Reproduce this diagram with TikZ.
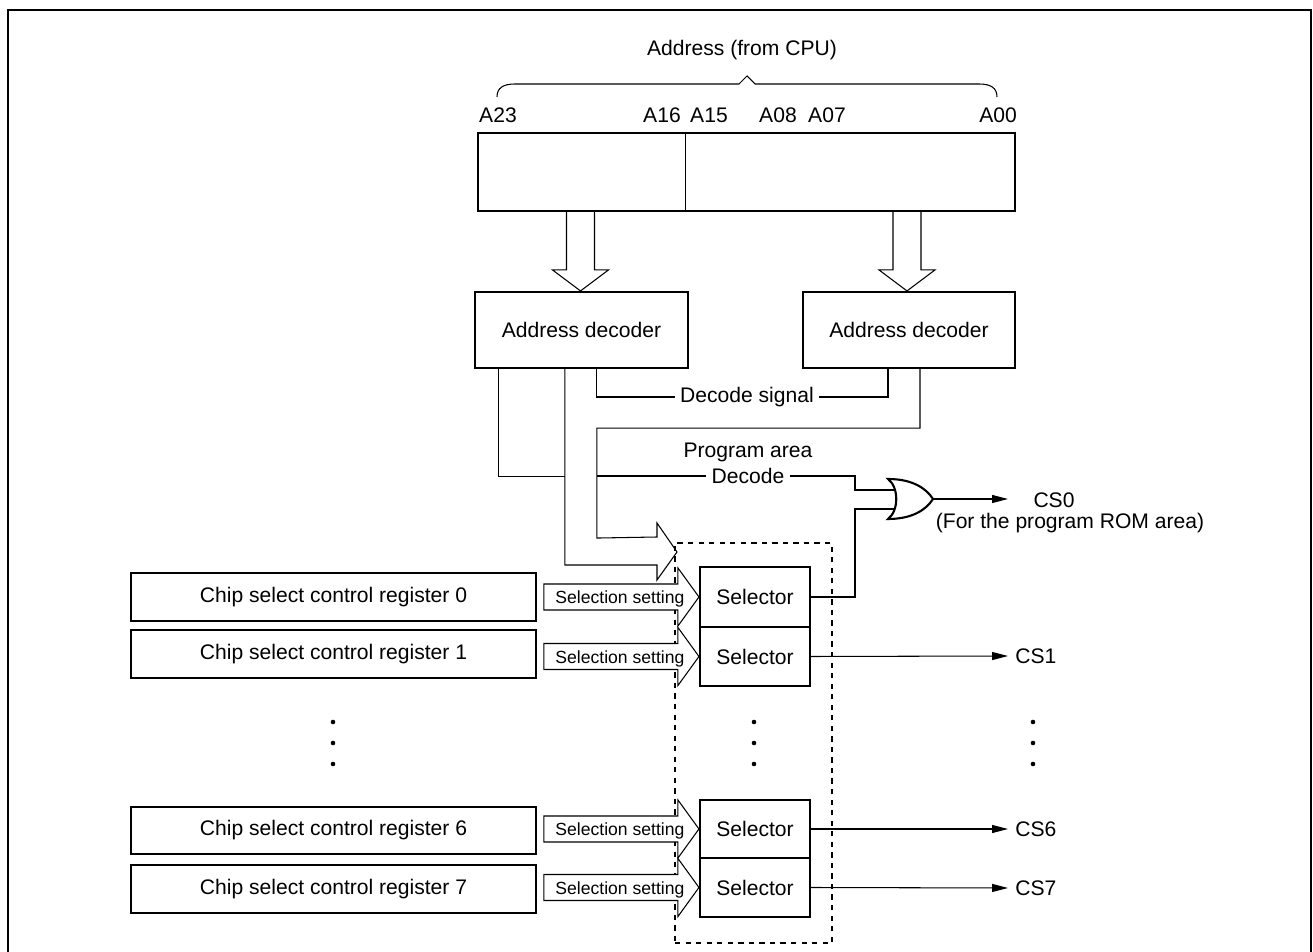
\documentclass[tikz,border=0pt]{standalone}
\usepackage{fontspec}
\setmainfont{Liberation Sans}
\usetikzlibrary{calc,fit,arrows.meta}
\newcommand\selarrow[1]{%
  \draw[hollow] ($(#1.west)+(-155,-13)$) -- ($(#1.west)+(-21,-13)$) -- ($(#1.west)+(-21,-29)$) -- (#1.west)
    -- ($(#1.west)+(-21,29)$) -- ($(#1.west)+(-21,13)$) -- ($(#1.west)+(-155,13)$) -- cycle;
  \node[slbl] (#1ss) at ($(#1.west)+(-79,2)$) {Selection setting};}
\begin{document}
\begin{tikzpicture}[x=0.02cm,y=-0.02cm,
  every node/.style={font=\fontsize{12}{14}\selectfont},
  box/.style={draw,line width=1.2pt,inner sep=0pt},
  wire/.style={line width=0.6pt},
  hollow/.style={draw,fill=white,line width=0.6pt,line join=miter},
  lbl/.style={inner sep=3pt},
  slbl/.style={font=\fontsize{10}{12}\selectfont,inner sep=0pt},
  outarrow/.style={line width=0.6pt,-{Triangle[length=9pt,width=4.5pt]}},
  dot/.style={circle,fill,inner sep=0pt,minimum size=2.6pt}]
\useasboundingbox (0,0) rectangle (1313,952);
% frame
\draw[line width=1.2pt] (8,952) -- (8,10) -- (1311,10) -- (1311,952);

% address register
\node[lbl] (title) at (742,50) {Address (from CPU)};
\draw[wire] (497,97) .. controls (497,88) and (503,84) .. (515,84) -- (739,84) -- (747,76) -- (755,84)
  -- (979,84) .. controls (991,84) and (997,88) .. (997,97);
\node[lbl] (a23) at (498,115) {A23};
\node[lbl] (a16) at (662,115) {A16};
\node[lbl] (a15) at (709,115) {A15};
\node[lbl] (a08) at (778,115) {A08};
\node[lbl] (a07) at (827,115) {A07};
\node[lbl] (a00) at (998,115) {A00};
\node[box,fit={(478,133)(1015,211)}] (addr) {};
\draw[wire] ($(addr.north west)+(209,0)$) -- ($(addr.south west)+(209,0)$);

% decoders
\node[box,minimum width=4.26cm,minimum height=1.52cm] (dec1) at (581.5,330) {Address decoder};
\node[box,minimum width=4.24cm,minimum height=1.52cm] (dec2) at (909,330) {Address decoder};
\coordinate (t1) at ($(dec1.north)+(-1,0)$);
\coordinate (t2) at ($(dec2.north)+(-2,0)$);
\draw[hollow] ($(t1|-addr.south)+(-14,0)$) -- ($(t1)+(-14,-21)$) -- ($(t1)+(-28,-21)$) -- (t1)
  -- ($(t1)+(28,-21)$) -- ($(t1)+(14,-21)$) -- ($(t1|-addr.south)+(14,0)$);
\draw[hollow] ($(t2|-addr.south)+(-14,0)$) -- ($(t2)+(-14,-21)$) -- ($(t2)+(-28,-21)$) -- (t2)
  -- ($(t2)+(28,-21)$) -- ($(t2)+(14,-21)$) -- ($(t2|-addr.south)+(14,0)$);

% decode signal
\node[lbl] (dsig) at (747,397) {Decode signal};
\draw[wire] ($(dec1.south west)+(123,0)$) |- (dsig.west);
\draw[wire] (dsig.east) -| ($(dec2.south west)+(86,0)$);

% selector group
\node[draw,dashed,line width=0.6pt,fit={(675,543)(832,943)},inner sep=0pt] (grp) {};
\node[box,minimum width=2.2cm,minimum height=1.2cm] (sel0) at (755,597) {Selector};
\node[box,minimum width=2.2cm,minimum height=1.18cm] (sel1) at (755,656.5) {Selector};
\node[box,minimum width=2.2cm,minimum height=1.16cm] (sel6) at (755,829) {Selector};
\node[box,minimum width=2.2cm,minimum height=1.18cm] (sel7) at (755,887.5) {Selector};

% wide arrow from decoders into selectors
\coordinate (jx) at ($(dec1.south west)+(123,0)$);
\coordinate (bt) at (677,552);
\draw[hollow,fill=none] ($(dec2.south west)+(118,0)$) |- ($(jx)+(0,59)$) -- ($(jx)+(0,169)$)
  -- ($(bt)+(-20,-15)$) -- ($(bt)+(-20,-29)$) -- (bt) -- ($(bt)+(-20,28)$) -- ($(bt)+(-20,13)$)
  -| ($(dec1.south west)+(91,0)$);
\draw[wire] ($(dec1.south west)+(25,0)$) |- ($(dec1.south west)+(91,107)$);

% program area decode and OR gate
\node[lbl] (parea) at (748,452) {Program area};
\node[lbl] (pdec) at (748,476) {Decode};
\draw[wire] (jx |- pdec.west) -- (pdec.west);
\draw[line width=1.2pt] (888,479) .. controls (899,487) and (899,511) .. (888,519)
  .. controls (912,519) and (926,510) .. (933,499) .. controls (926,488) and (912,479) .. (888,479) -- cycle;
\coordinate (orA) at (895,490);
\coordinate (orB) at (895,509);
\coordinate (orY) at (933,499);
\draw[wire] (pdec.east) -| ($(orA)+(-40,0)$) -- (orA);
\draw[wire] (sel0.east) -| ($(orB)+(-40,0)$) -- (orB);
\node[lbl] (cs0) at (1054,500) {CS0};
\node[lbl] (rom) at (1070,523) {(For the program ROM area)};
\coordinate (cs0tip) at (1008,499);
\draw[outarrow] (orY) -- (cs0tip);

% registers
\node[box,minimum width=8.1cm,minimum height=0.96cm] (reg0) at (333.5,597) {Chip select control register 0};
\node[box,minimum width=8.1cm,minimum height=0.96cm] (reg1) at (333.5,654) {Chip select control register 1};
\node[box,minimum width=8.1cm,minimum height=0.94cm] (reg6) at (333.5,830.5) {Chip select control register 6};
\node[box,minimum width=8.1cm,minimum height=0.96cm] (reg7) at (333.5,889) {Chip select control register 7};
\selarrow{sel0}
\selarrow{sel1}
\selarrow{sel6}
\selarrow{sel7}

% outputs
\node[lbl,anchor=west,inner sep=0pt] (cs1) at (1015,656) {CS1};
\node[lbl,anchor=west,inner sep=0pt] (cs6) at (1015,829) {CS6};
\node[lbl,anchor=west,inner sep=0pt] (cs7) at (1015,888) {CS7};
\draw[outarrow] (sel1.east) -- ($(cs1.west)+(-7,0)$);
\draw[outarrow] (sel6.east) -- ($(cs6.west)+(-7,0)$);
\draw[outarrow] (sel7.east) -- ($(cs7.west)+(-7,0)$);

% ellipsis dots
\foreach \xx in {333,754,1033}
  \foreach \yy in {722,743,764}
    \node[dot] at (\xx,\yy) {};
\end{tikzpicture}
\end{document}
